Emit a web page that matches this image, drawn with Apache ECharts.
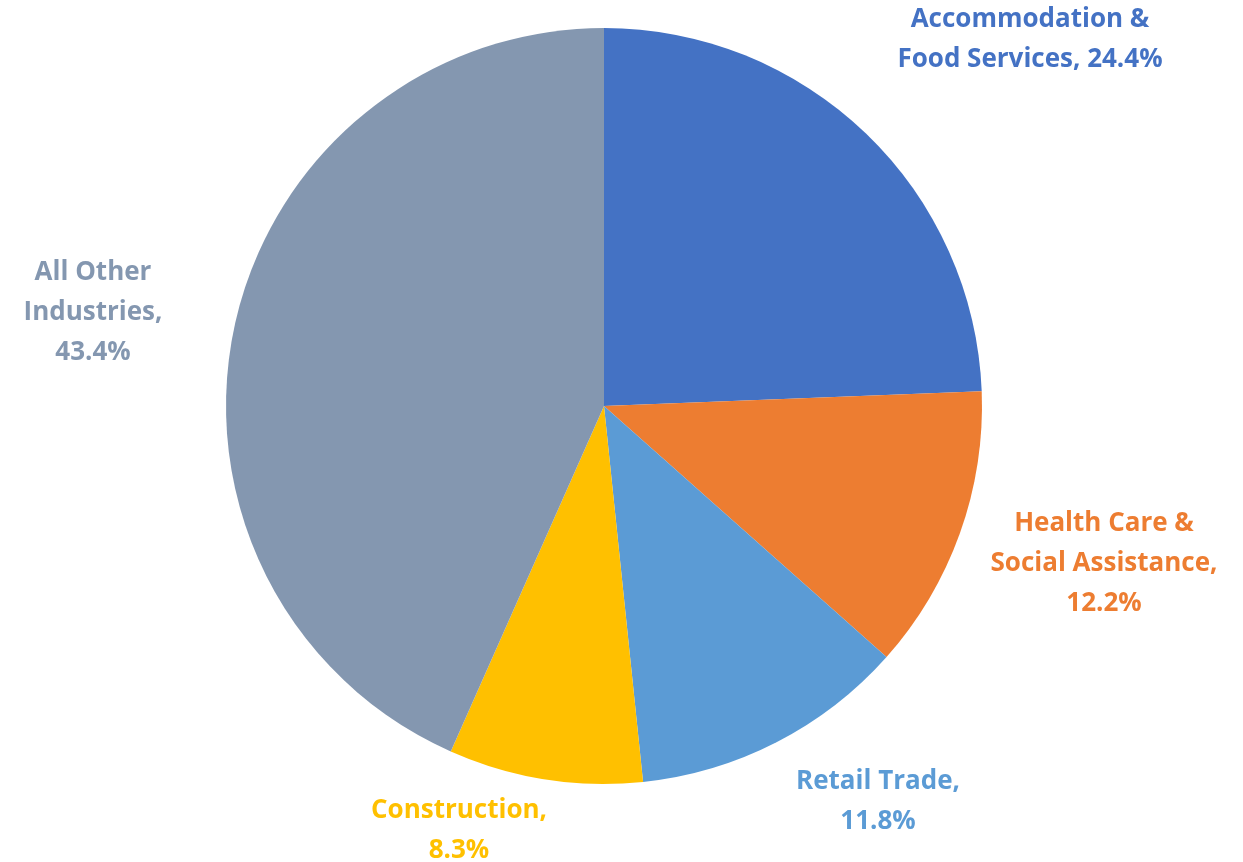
<!DOCTYPE html>
<html><head><meta charset="utf-8">
<script src="https://cdn.jsdelivr.net/npm/echarts@6/dist/echarts.min.js"></script>
<style>html,body{margin:0;padding:0;background:#fff}#c{width:1243px;height:862px}</style>
</head><body><div id="c"></div>
<script>
const categories = ["Accommodation & Food Services", "Health Care & Social Assistance", "Retail Trade", "Construction", "All Other Industries"];
const values = [24.4, 12.2, 11.8, 8.3, 43.4];
const labelTexts = ["Accommodation &\nFood Services, 24.4%", "Health Care &\nSocial Assistance,\n12.2%", "Retail Trade,\n11.8%", "Construction,\n8.3%", "All Other\nIndustries,\n43.4%"];
const colors = ["#4472C4", "#ED7D31", "#5B9BD5", "#FFC000", "#8497B0"];
const labelCenters = [[1030, 40], [1104, 564], [878, 802], [459, 831], [93, 313]];

const chart = echarts.init(document.getElementById('c'));
chart.setOption({
  animation: false,
  series: [{
    type: 'pie',
    center: [604, 406],
    radius: 378,
    startAngle: 90,
    clockwise: true,
    avoidLabelOverlap: false,
    data: categories.map((c, i) => ({
      name: c, value: values[i],
      itemStyle: { color: colors[i] },
      label: { color: colors[i] }
    })),
    label: {
      show: true,
      position: 'outside',
      formatter: p => labelTexts[p.dataIndex],
      fontFamily: 'Open Sans',
      fontWeight: 'bold',
      fontSize: 26,
      lineHeight: 40,
      align: 'center',
      overflow: 'none',
      edgeDistance: 0,
      bleedMargin: 0
    },
    labelLine: { show: false },
    labelLayout: p => ({
      x: labelCenters[p.dataIndex][0],
      y: labelCenters[p.dataIndex][1],
      align: 'center',
      verticalAlign: 'middle'
    })
  }]
});
</script></body></html>
